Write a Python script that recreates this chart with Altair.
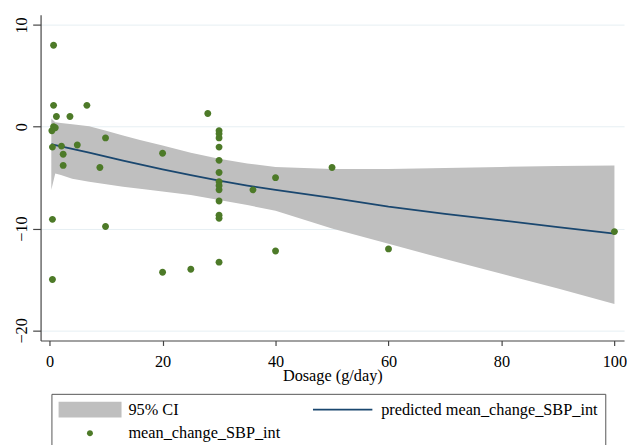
import altair as alt
import pandas as pd

# ---- data ----
series_names = ["95% CI", "predicted mean_change_SBP_int", "mean_change_SBP_int"]
series_colors = ["#bfbfbf", "#1a476f", "#4d7a28"]

dose_obs = [0.7, 0.7, 1.2, 3.6, 6.6, 0.7, 1.0, 0.4, 0.5, 2.1, 2.4, 2.4, 4.9, 9.9, 8.9,
            0.5, 9.9, 0.5, 20, 20, 25, 28,
            30, 30, 30, 30, 30, 30, 30, 30, 30, 30, 30, 30, 30,
            36, 40, 40, 50, 60, 100]
sbp_obs = [8.0, 2.1, 1.0, 1.0, 2.1, 0.0, -0.1, -0.4, -2.0, -1.9, -2.7, -3.8, -1.8, -1.1, -4.0,
           -9.1, -9.8, -15.0, -2.6, -14.3, -14.0, 1.3,
           -0.4, -0.7, -1.1, -2.0, -3.3, -4.5, -5.4, -5.8, -6.2, -7.3, -8.7, -9.0, -13.3,
           -6.2, -5.0, -12.2, -4.0, -12.0, -10.3]

dose_fit = [0.3, 1, 2, 4, 7, 10, 13, 16, 20, 25, 30, 35, 40, 50, 60, 70, 80, 90, 100]
sbp_fit = [-1.7, -1.8, -1.93, -2.18, -2.54, -2.93, -3.32, -3.7, -4.18, -4.75, -5.3, -5.78, -6.2,
           -7.0, -7.85, -8.55, -9.2, -9.85, -10.5]
ci_low = [-6.2, -4.6, -4.75, -5.1, -5.4, -5.65, -5.9, -6.1, -6.35, -6.7, -7.2, -7.7, -8.25,
          -10.0, -11.5, -13.0, -14.45, -15.9, -17.4]
ci_high = [0.8, 0.45, 0.37, 0.25, 0.05, -0.4, -0.85, -1.3, -1.85, -2.55, -3.15, -3.6, -3.95,
           -4.15, -4.15, -4.05, -3.95, -3.85, -3.8]

x_ticks = [0, 20, 40, 60, 80, 100]
y_ticks = [-20, -10, 0, 10]

# legend symbol shapes (unit box): wide swatch, thin line, small dot
series_shapes = [
    "M-1,-0.25H1V0.25H-1Z",
    "M-0.94,-0.028H0.94V0.028H-0.94Z",
    "M0.094,0A0.094,0.094 0 1,0 -0.094,0A0.094,0.094 0 1,0 0.094,0Z",
]

df_obs = pd.DataFrame({"dose": dose_obs, "sbp": sbp_obs, "series": series_names[2]})
df_fit = pd.DataFrame({"dose": dose_fit, "sbp": sbp_fit, "lo": ci_low, "hi": ci_high})
df_ci = df_fit.assign(series=series_names[0])
df_line = df_fit.assign(series=series_names[1])

FONT = "'Liberation Serif', 'Times New Roman', Times, serif"

xscale = alt.Scale(domain=[-1.6, 101.7], nice=False, zero=False)
yscale = alt.Scale(domain=[-21, 11], nice=False, zero=False)

x_axis = alt.Axis(values=x_ticks, title="Dosage (g/day)", grid=False, tickSize=5,
                  labelPadding=8, titlePadding=-2, format="d")
y_axis = alt.Axis(values=y_ticks, title=None, grid=True, gridColor="#e6eff3", gridWidth=1,
                  tickSize=8, labelAngle=270, labelAlign="center", labelBaseline="alphabetic",
                  labelPadding=6, format="d")

legend = alt.Legend(
    title=None, orient="none", legendX=11, legendY=384, columns=2, direction="horizontal",
    values=series_names,
    columnPadding=31, rowPadding=6, padding=7, strokeColor="#555555", fillColor="white",
    labelFont=FONT, labelFontSize=16.5, labelColor="black", labelLimit=400, labelOffset=7,
    symbolSize=4096, symbolStrokeWidth=0, symbolOpacity=1, clipHeight=18, cornerRadius=0,
)

color = alt.Color("series:N", scale=alt.Scale(domain=series_names, range=series_colors),
                  legend=legend)
shape = alt.Shape("series:N", scale=alt.Scale(domain=series_names, range=series_shapes),
                  legend=legend)

band = alt.Chart(df_ci).mark_area(opacity=1).encode(
    x=alt.X("dose:Q", scale=xscale, axis=x_axis),
    y=alt.Y("lo:Q", scale=yscale, axis=y_axis),
    y2="hi:Q",
    color=color,
)

line = alt.Chart(df_line).mark_line(strokeWidth=1.8).encode(
    x=alt.X("dose:Q", scale=xscale),
    y=alt.Y("sbp:Q", scale=yscale),
    color=color,
)

pts = alt.Chart(df_obs).mark_point(filled=True, size=5500, opacity=1, strokeWidth=0).encode(
    x=alt.X("dose:Q", scale=xscale),
    y=alt.Y("sbp:Q", scale=yscale),
    color=color,
    shape=shape,
)

chart = alt.layer(band, line, pts).properties(
    width=591, height=330,
    autosize=alt.AutoSizeParams(type="none"),
    padding={"left": 33, "top": 4, "right": 3, "bottom": 103},
    background="white",
).configure_view(stroke=None).configure_axis(
    labelFont=FONT, labelFontSize=16.5, labelColor="black",
    titleFont=FONT, titleFontSize=16.5, titleFontWeight="normal", titleColor="black",
    domainColor="#444444", tickColor="#444444", domainWidth=1.2, tickWidth=1.2,
)

chart.save("out.html", embed_options={"renderer": "svg", "actions": False})
